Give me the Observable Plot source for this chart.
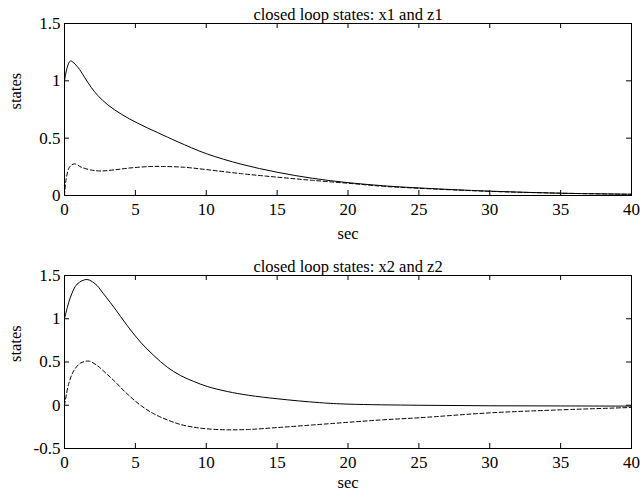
<!DOCTYPE html>
<html>
<head>
<meta charset="utf-8">
<script src="https://cdn.jsdelivr.net/npm/d3@7"></script>
<script src="https://cdn.jsdelivr.net/npm/@observablehq/plot@0.6"></script>
<style>
  html, body { margin: 0; padding: 0; background: #fff; }
  #chart svg { display: block; }
</style>
</head>
<body>
<div id="chart"></div>
<script>
// ---- data ----
const xTicks = [0, 5, 10, 15, 20, 25, 30, 35, 40];
const yTicksTop = [0, 0.5, 1, 1.5];
const yTicksBottom = [-0.5, 0, 0.5, 1, 1.5];
const titles = ["closed loop states: x1 and z1", "closed loop states: x2 and z2"];
const xLabel = "sec";
const yLabel = "states";

const tX1 = [0, 0.2, 0.42, 0.94, 1.41, 1.88, 2.35, 3.06, 4.0, 5.17, 6.58, 8.0, 10, 12.5, 15, 17.5, 20, 22.5, 25, 30, 35, 40];
const x1  = [1.0, 1.12, 1.173, 1.119, 1.032, 0.944, 0.872, 0.79, 0.71, 0.63, 0.548, 0.468, 0.365, 0.272, 0.203, 0.15, 0.112, 0.085, 0.066, 0.038, 0.02, 0.011];

const tZ1 = [0, 0.12, 0.35, 0.7, 1.18, 1.88, 2.59, 3.53, 4.7, 6.1, 7.04, 8.47, 10, 12.5, 15, 17.5, 20, 22.5, 25, 30, 35, 40];
const z1  = [0, 0.145, 0.247, 0.276, 0.247, 0.222, 0.214, 0.224, 0.241, 0.253, 0.253, 0.246, 0.226, 0.19, 0.16, 0.132, 0.107, 0.08, 0.063, 0.036, 0.02, 0.01];

const tX2 = [0, 0.2, 0.42, 0.89, 1.6, 2.3, 2.54, 3.48, 4.42, 5.36, 6.3, 7.25, 8.18, 9.12, 10.07, 11.48, 13, 15, 18, 20, 25, 30, 35, 40];
const x2  = [1.0, 1.13, 1.25, 1.40, 1.454, 1.384, 1.334, 1.134, 0.922, 0.73, 0.575, 0.44, 0.344, 0.275, 0.217, 0.159, 0.115, 0.075, 0.03, 0.013, 0.0, -0.006, -0.008, -0.01];

const tZ2 = [0, 0.3, 0.66, 1.13, 1.72, 2.3, 2.66, 3.48, 4.42, 5.36, 6.3, 7.25, 8.18, 9.12, 10.07, 11.48, 13, 15, 17.5, 20, 22.5, 25, 30, 35, 40];
const z2  = [0, 0.25, 0.40, 0.487, 0.51, 0.46, 0.41, 0.286, 0.132, 0.0, -0.099, -0.169, -0.222, -0.254, -0.273, -0.284, -0.28, -0.258, -0.228, -0.197, -0.168, -0.145, -0.088, -0.053, -0.026];

// ---- drawing ----
const FONT = "'Liberation Serif', 'Times New Roman', serif";
const fmt = d => String(d);

function panel({title, tx, xs, tz, zs, yDomain, yTicks, height, mt, mb, secDy}) {
  const ml = 64, mr = 9, W = 640;
  const ph = height - mt - mb;
  const solid = tx.map((t, i) => ({t, v: xs[i]}));
  const dashed = tz.map((t, i) => ({t, v: zs[i]}));
  return Plot.plot({
    width: W, height,
    marginLeft: ml, marginRight: mr, marginTop: mt, marginBottom: mb,
    style: {fontFamily: FONT, fontSize: "17px", color: "#000", background: "#fff"},
    x: {domain: [0, 40], axis: null},
    y: {domain: yDomain, axis: null},
    marks: [
      Plot.line(solid, {x: "t", y: "v", stroke: "#000", strokeWidth: 1, curve: "catmull-rom"}),
      Plot.line(dashed, {x: "t", y: "v", stroke: "#000", strokeWidth: 1, strokeDasharray: "4,2.5", curve: "catmull-rom"}),
      Plot.frame({stroke: "#000", strokeWidth: 1}),
      // inward ticks on all four sides
      Plot.tickX(xTicks, {x: d => d, stroke: "#000", insetTop: ph - 5}),
      Plot.tickX(xTicks, {x: d => d, stroke: "#000", insetBottom: ph - 5}),
      Plot.tickY(yTicks, {y: d => d, stroke: "#000", insetRight: W - ml - mr - 5}),
      Plot.tickY(yTicks, {y: d => d, stroke: "#000", insetLeft: W - ml - mr - 5}),
      Plot.axisX(xTicks, {tickSize: 0, tickPadding: 7, tickFormat: fmt, label: null, fontSize: 17}),
      Plot.axisY(yTicks, {tickSize: 0, tickPadding: 4, tickFormat: fmt, label: null, fontSize: 17}),
      Plot.text([title], {frameAnchor: "top", lineAnchor: "bottom", dy: -4, fontSize: 16.5, fill: "#000"}),
      Plot.text([xLabel], {frameAnchor: "bottom", lineAnchor: "bottom", dy: secDy, fontSize: 16.5, fill: "#000"}),
      Plot.text([yLabel], {frameAnchor: "left", rotate: -90, dx: -49, fontSize: 16.5, fill: "#000"})
    ]
  });
}

const chart = document.getElementById("chart");
chart.append(panel({title: titles[0], tx: tX1, xs: x1, tz: tZ1, zs: z1,
  yDomain: [0, 1.5], yTicks: yTicksTop, height: 246, mt: 23, mb: 51, secDy: 43}));
chart.append(panel({title: titles[1], tx: tX2, xs: x2, tz: tZ2, zs: z2,
  yDomain: [-0.5, 1.5], yTicks: yTicksBottom, height: 246, mt: 29, mb: 44, secDy: 39}));
</script>
</body>
</html>
